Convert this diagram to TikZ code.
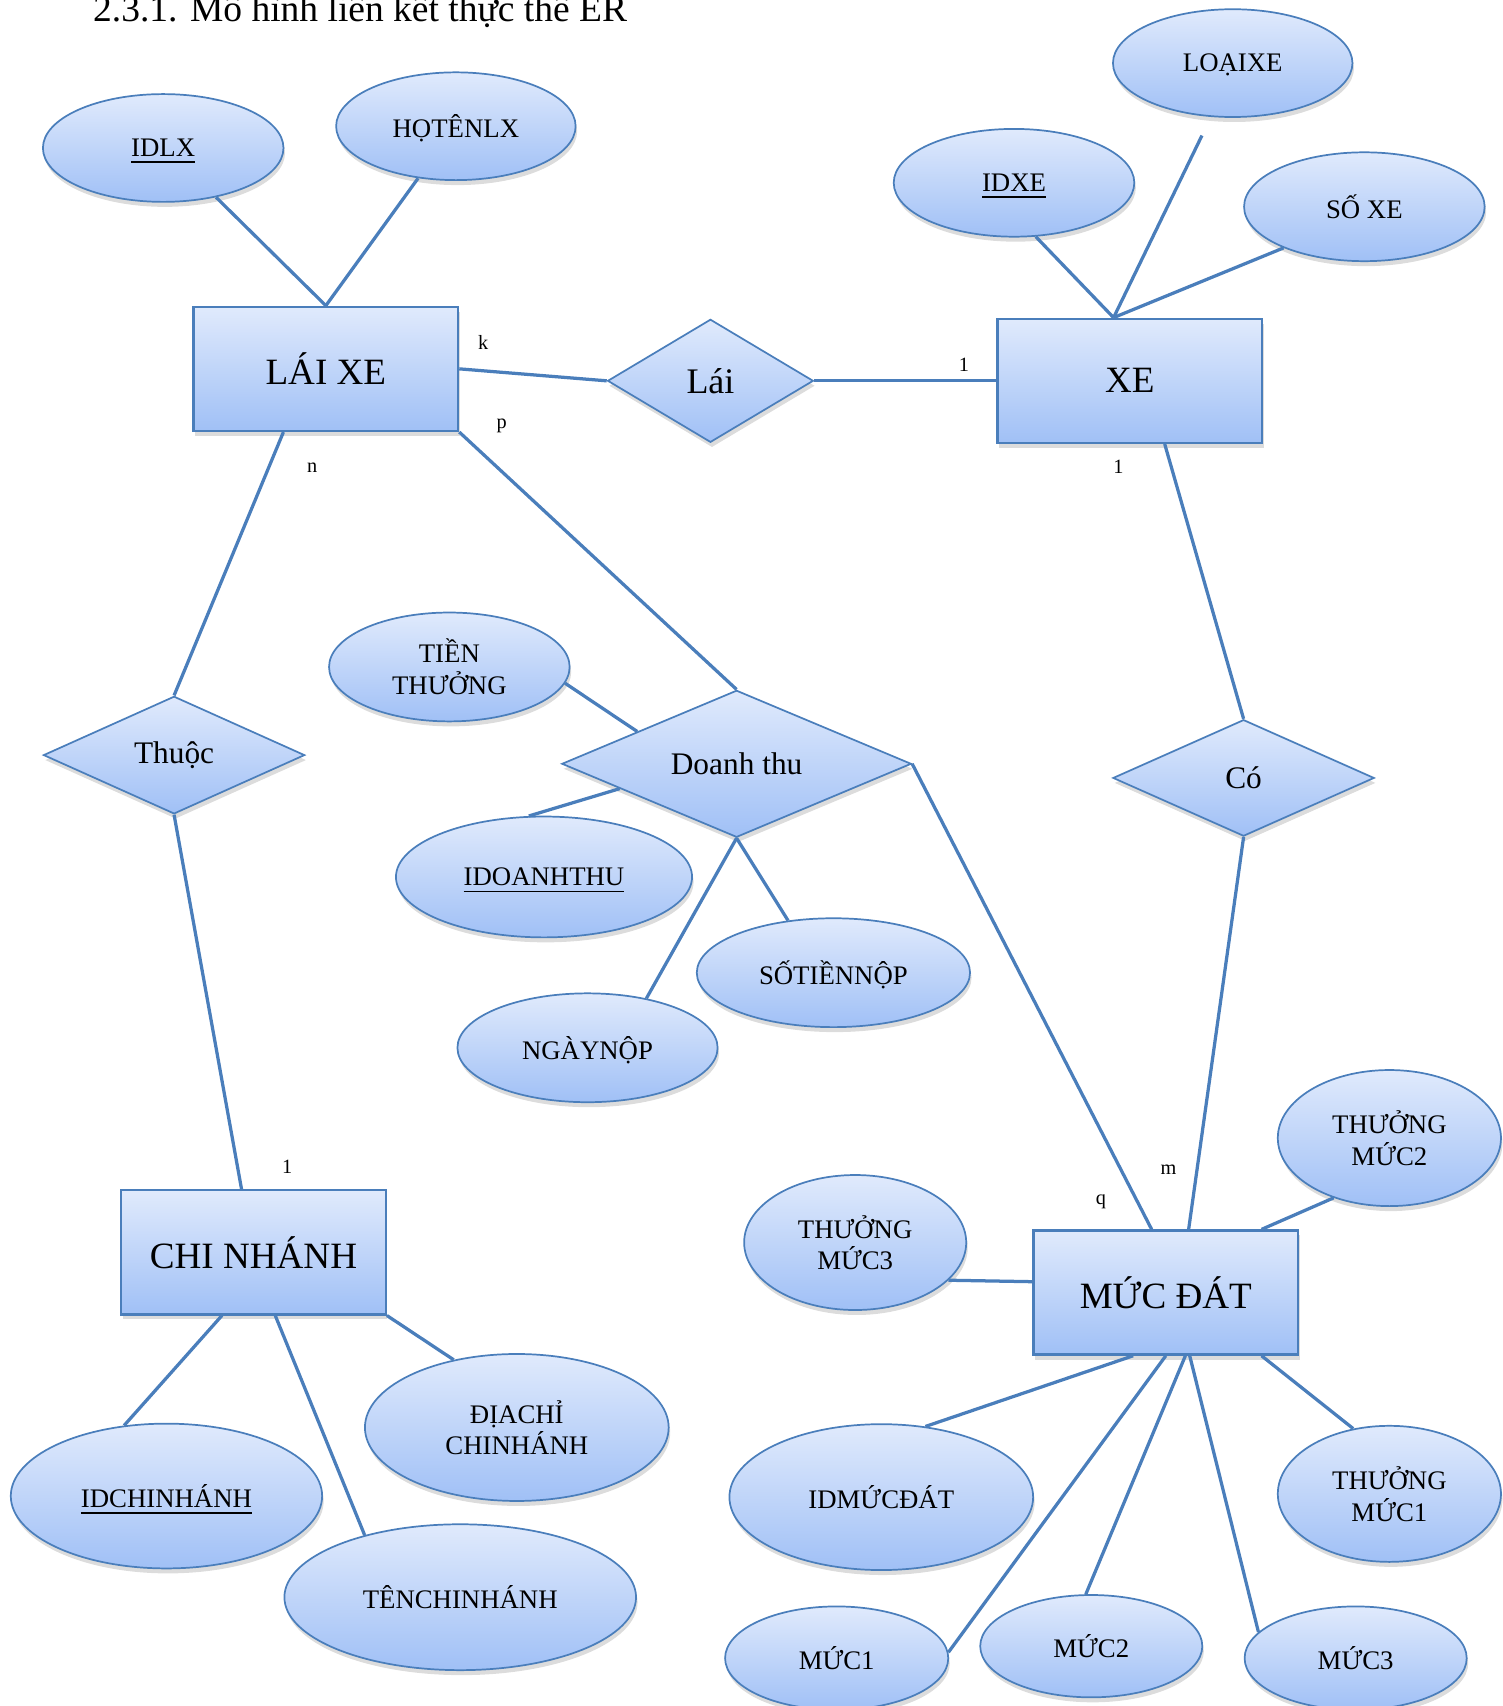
\documentclass[tikz,border=0pt]{standalone}
\usepackage{fontspec}
\setmainfont{Liberation Serif}
\usetikzlibrary{shapes.geometric,shadows,calc}
\definecolor{erline}{HTML}{4A7EBB}
\definecolor{ertop}{HTML}{E0EAFC}
\definecolor{erbot}{HTML}{A0C0F6}

\begin{document}
\begin{tikzpicture}[
    x=0.01cm, y=-0.01cm,
    every node/.style={inner sep=0pt, text=black},
    erfill/.style={top color=ertop, bottom color=erbot, draw=erline, drop shadow={shadow xshift=0.4pt, shadow yshift=-1.3pt, opacity=0.28}},
    entity/.style={erfill, rectangle, line width=0.6pt, minimum width=2.43cm, minimum height=1.14cm, font=\fontsize{9.7}{11}\selectfont},
    attr/.style={erfill, ellipse, line width=0.45pt, align=center, text depth=0pt, font=\fontsize{7}{8.3}\selectfont},
    rel/.style={erfill, diamond, aspect=2.2, line width=0.45pt, font=\fontsize{8.2}{10}\selectfont},
    wh/.style 2 args={minimum width=#1, minimum height=#2},
    card/.style={font=\fontsize{5.3}{6}\selectfont},
    link/.style={draw=erline, line width=0.85pt}
]
    \useasboundingbox (0,0) rectangle (1381,1568);
    \clip (0,0) rectangle (1381,1568);

    \node [anchor=base west, font=\fontsize{9.8}{12}\selectfont] (title) at (85,20) {2.3.1. Mô hình liên kết thực thể ER};

    % entities
    \node [entity] (laixe) at (299.5,339) {LÁI XE};
    \node [entity] (xe) at (1038.5,350) {XE};
    \node [entity] (chinhanh) at (233,1151) {CHI NHÁNH};
    \node [entity] (mucdat) at (1071.5,1188) {MỨC ĐÁT};

    % relationships
    \node [rel, wh={1.89cm}{1.13cm}, font=\fontsize{9.4}{11}\selectfont] (lai) at (653,350) {Lái};
    \node [rel, wh={2.4cm}{1.08cm}] (thuoc) at (160,694) {Thuộc};
    \node [rel, wh={3.21cm}{1.35cm}] (doanhthu) at (677,702) {Doanh thu};
    \node [rel, wh={2.4cm}{1.07cm}] (co) at (1143,715) {Có};

    % attributes
    \node [attr, wh={2.21cm}{0.99cm}] (idlx) at (150,136) {\underline{IDLX}};
    \node [attr, wh={2.2cm}{0.99cm}] (hotenlx) at (419,116) {HỌTÊNLX};
    \node [attr, wh={2.2cm}{0.99cm}] (loaixe) at (1133,58) {LOẠIXE};
    \node [attr, wh={2.21cm}{0.99cm}] (idxe) at (932,168) {\underline{IDXE}};
    \node [attr, wh={2.21cm}{1.0cm}] (soxe) at (1254,190) {SỐ XE};
    \node [attr, wh={2.21cm}{1.0cm}] (tienthuong) at (413,613) {TIỀN\\THƯỞNG};
    \node [attr, wh={2.72cm}{1.11cm}] (idoanhthu) at (500,806) {\underline{IDOANHTHU}};
    \node [attr, wh={2.51cm}{1.0cm}] (sotiennop) at (766,894) {SỐTIỀNNỘP};
    \node [attr, wh={2.39cm}{1.0cm}] (ngaynop) at (540,963) {NGÀYNỘP};
    \node [attr, wh={2.05cm}{1.25cm}] (thuongmuc2) at (1277,1046) {THƯỞNG\\MỨC2};
    \node [attr, wh={2.04cm}{1.24cm}] (thuongmuc3) at (786,1142) {THƯỞNG\\MỨC3};
    \node [attr, wh={2.79cm}{1.34cm}] (idmucdat) at (810,1376) {IDMỨCĐÁT};
    \node [attr, wh={2.05cm}{1.25cm}] (thuongmuc1) at (1277,1373) {THƯỞNG\\MỨC1};
    \node [attr, wh={2.05cm}{0.95cm}] (muc1) at (769,1524) {MỨC1};
    \node [attr, wh={2.04cm}{0.94cm}] (muc2) at (1003,1513) {MỨC2};
    \node [attr, wh={2.04cm}{0.95cm}] (muc3) at (1246,1524) {MỨC3};
    \node [attr, wh={2.86cm}{1.33cm}] (idchinhanh) at (153,1375) {\underline{IDCHINHÁNH}};
    \node [attr, wh={2.79cm}{1.35cm}] (diachi) at (475,1312) {ĐỊACHỈ\\CHINHÁNH};
    \node [attr, wh={3.23cm}{1.34cm}] (tenchinhanh) at (423,1468) {TÊNCHINHÁNH};

    % cardinalities
    \node [card] (ck) at (444,315) {k};
    \node [card] (cp) at (461,391) {p};
    \node [card] (cn) at (287,430) {n};
    \node [card] (c1a) at (886,335) {1};
    \node [card] (c1b) at (1028,429) {1};
    \node [card] (c1c) at (264,1072) {1};
    \node [card] (cq) at (1012,1105) {q};
    \node [card] (cm) at (1074,1075) {m};

    % connectors
    \coordinate (xetop) at ($(xe.north)+(-15,0)$);
    \draw [link] (idlx.-43) -- (laixe.north);
    \draw [link] (hotenlx.-126) -- (laixe.north);
    \draw [link] (laixe.east) -- (lai.west);
    \draw [link] (lai.east) -- (xe.west);
    \draw [link] (xetop) -- (idxe.-68);
    \draw [link, shorten >=0.19cm] (xetop) -- (loaixe.-112);
    \draw [link] (xetop) -- (soxe.-153);
    \draw [link] ($(xe.south)+(32,0)$) -- (co.north);
    \draw [link] (co.south) -- ($(mucdat.north)+(21,0)$);
    \draw [link] ($(laixe.south)+(-39,0)$) -- (thuoc.north);
    \draw [link] (thuoc.south) -- ($(chinhanh.north)+(-11,0)$);
    \draw [link] (laixe.south east) -- (doanhthu.north);
    \draw [link] (doanhthu.east) -- ($(mucdat.north)+(-13,0)$);
    \draw [link] (tienthuong.-8) -- (doanhthu.162);
    \draw [link] (doanhthu.-168) -- (idoanhthu.104);
    \draw [link] (doanhthu.south) -- (ngaynop.40);
    \draw [link] (doanhthu.south) -- (sotiennop.131);
    \draw [link] ($(mucdat.north)+(88,0)$) -- (thuongmuc2.-133);
    \draw [link] ($(mucdat.west)+(0,-10)$) -- (thuongmuc3.-22);
    \draw [link] ($(mucdat.south)+(-30,0)$) -- (idmucdat.58);
    \draw [link] (mucdat.south) -- (muc1.3);
    \draw [link] ($(mucdat.south)+(18,0)$) -- (muc2.96);
    \draw [link] ($(mucdat.south)+(22,0)$) -- (muc3.165);
    \draw [link] ($(mucdat.south)+(88,0)$) -- (thuongmuc1.119);
    \draw [link] ($(chinhanh.south)+(-29,0)$) -- (idchinhanh.121);
    \draw [link] ($(chinhanh.south)+(20,0)$) -- (tenchinhanh.147);
    \draw [link] (chinhanh.south east) -- (diachi.133);

\end{tikzpicture}
\end{document}
